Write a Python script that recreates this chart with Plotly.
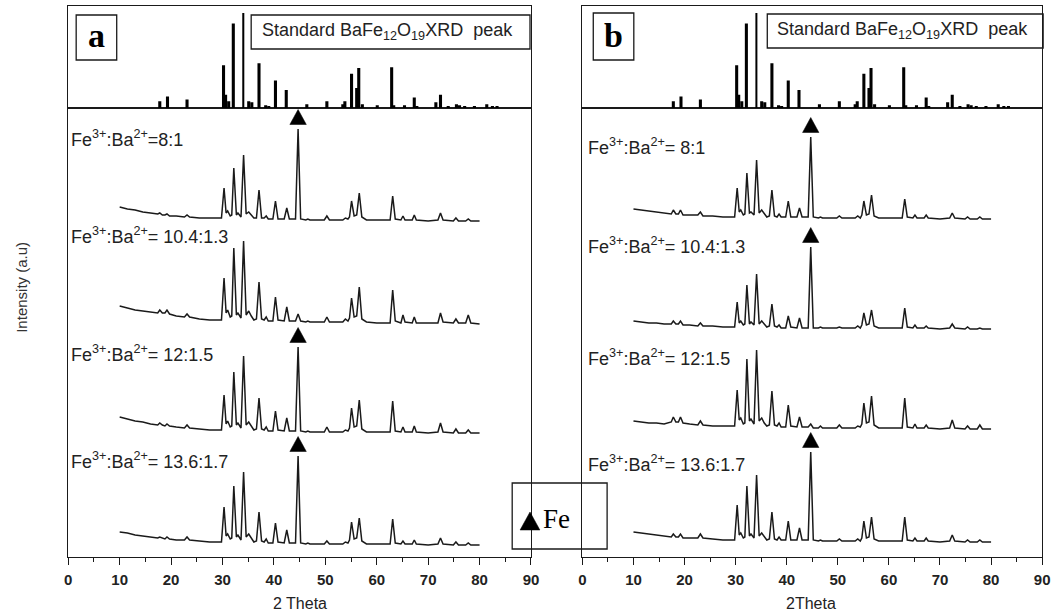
import plotly.graph_objects as go

W, H = 1063, 613

# ---------------- data ----------------
# 2-theta sample positions (deg) shared by all measured patterns
two_theta = [10.0, 11.5, 13.0, 14.5, 16.0, 17.4, 17.8, 18.3, 18.8, 19.2, 19.7, 21.0, 22.6, 23.1, 23.6,
             25.5, 27.5, 29.8, 30.3, 30.7, 31.0, 31.5, 31.8, 32.2, 32.7, 33.0, 33.6, 34.1, 34.6, 35.1,
             35.6, 36.1, 36.6, 37.1, 37.6, 38.1, 38.5, 38.9, 39.8, 40.3, 40.8, 42.0, 42.5, 43.0, 44.2,
             44.7, 45.2, 46.2, 46.6, 47.0, 49.8, 50.3, 50.8, 53.4, 53.9, 54.4, 54.7, 55.1, 55.6, 56.1,
             56.6, 57.1, 58.0, 60.0, 62.6, 63.1, 63.6, 64.7, 65.1, 65.5, 66.9, 67.3, 67.7, 70.0, 71.9,
             72.4, 72.9, 74.9, 75.4, 75.9, 77.3, 77.8, 78.3, 80.0]

# intensities (a.u.) above each pattern's own baseline
a_8_1 = [14, 12, 11, 9, 8, 7, 8, 6, 6, 7, 5, 5, 4, 6, 4,
         3, 3, 3, 33, 8, 10, 5, 6, 53, 6, 8, 4, 66, 7, 9,
         6, 3, 3, 31, 3, 3, 5, 2, 2, 20, 2, 2, 13, 2, 2,
         92, 2, 1, 2, 1, 1, 5, 1, 1, 3, 2, 4, 20, 5, 6,
         28, 4, 1, 1, 1, 25, 2, 1, 5, 1, 1, 6, 1, 0, 1,
         8, 1, 0, 3, 0, 0, 2, 0, 0]
a_10_4 = [18, 16, 14, 13, 12, 11, 14, 11, 11, 14, 10, 8, 7, 10, 7,
          5, 4, 4, 46, 11, 14, 7, 8, 76, 9, 11, 6, 83, 9, 13,
          8, 4, 5, 42, 5, 4, 7, 3, 3, 27, 4, 3, 17, 3, 3,
          10, 3, 2, 3, 2, 2, 7, 2, 2, 5, 3, 6, 26, 7, 8,
          37, 5, 2, 1, 1, 34, 3, 1, 9, 2, 1, 7, 1, 1, 1,
          11, 2, 1, 5, 1, 1, 9, 1, 0]
a_12 = [16, 14, 12, 11, 9, 8, 10, 8, 7, 9, 7, 6, 5, 8, 5,
        4, 3, 3, 38, 9, 12, 6, 7, 61, 8, 10, 5, 77, 8, 11,
        7, 3, 4, 35, 4, 3, 6, 2, 2, 22, 3, 2, 15, 2, 2,
        86, 2, 1, 2, 1, 1, 6, 1, 1, 3, 2, 5, 25, 6, 7,
        33, 4, 1, 1, 1, 32, 2, 1, 6, 1, 1, 7, 1, 0, 1,
        10, 1, 0, 4, 0, 0, 3, 0, 0]
a_13_6 = [13, 12, 10, 9, 8, 7, 8, 7, 6, 8, 6, 5, 5, 8, 5,
          4, 3, 3, 38, 9, 11, 6, 7, 59, 8, 10, 5, 73, 8, 11,
          7, 3, 4, 33, 4, 3, 6, 2, 2, 22, 3, 2, 15, 2, 2,
          89, 2, 1, 2, 1, 1, 4, 1, 1, 3, 2, 5, 23, 6, 7,
          27, 4, 1, 1, 1, 26, 2, 1, 4, 1, 1, 5, 1, 0, 1,
          7, 1, 0, 3, 0, 0, 2, 0, 0]
b_8_1 = [10, 9, 8, 7, 6, 5, 9, 5, 5, 9, 4, 4, 4, 7, 3,
         3, 2, 2, 31, 7, 9, 4, 5, 46, 6, 7, 4, 59, 6, 9,
         5, 2, 3, 29, 3, 2, 5, 2, 2, 18, 2, 2, 11, 2, 2,
         82, 2, 1, 2, 1, 1, 3, 1, 1, 3, 1, 4, 18, 4, 5,
         24, 3, 1, 1, 1, 20, 2, 1, 4, 1, 1, 4, 1, 0, 1,
         6, 1, 0, 2, 0, 0, 2, 0, 0]
b_10_4 = [8, 7, 6, 6, 5, 5, 8, 5, 5, 8, 4, 4, 3, 6, 3,
          3, 2, 2, 27, 6, 8, 4, 5, 44, 5, 7, 4, 55, 5, 8,
          5, 2, 3, 25, 3, 2, 4, 1, 1, 13, 2, 1, 11, 1, 1,
          82, 1, 1, 2, 1, 1, 2, 1, 1, 3, 1, 4, 16, 4, 5,
          19, 3, 1, 1, 1, 21, 2, 1, 4, 1, 1, 3, 1, 0, 1,
          5, 1, 0, 2, 0, 0, 1, 0, 0]
b_12 = [8, 7, 6, 6, 5, 7, 12, 7, 7, 12, 6, 5, 4, 8, 4,
        3, 3, 3, 39, 9, 11, 5, 6, 70, 8, 10, 5, 79, 8, 11,
        6, 3, 4, 38, 4, 3, 6, 2, 2, 24, 3, 2, 12, 2, 2,
        5, 1, 1, 3, 1, 1, 4, 1, 1, 3, 2, 5, 26, 6, 7,
        33, 4, 1, 1, 1, 31, 2, 1, 5, 1, 1, 4, 1, 0, 1,
        9, 1, 0, 3, 0, 0, 4, 0, 0]
b_13_6 = [10, 9, 8, 7, 6, 5, 8, 5, 5, 8, 4, 4, 4, 8, 4,
          3, 2, 2, 37, 7, 9, 4, 5, 56, 6, 8, 4, 67, 6, 9,
          5, 2, 3, 30, 3, 2, 5, 2, 2, 21, 2, 2, 14, 2, 2,
          90, 2, 1, 2, 1, 1, 3, 1, 1, 3, 1, 4, 21, 4, 5,
          25, 3, 1, 1, 1, 25, 2, 1, 4, 1, 1, 4, 1, 0, 1,
          7, 1, 0, 2, 0, 0, 2, 0, 0]

patterns_a = [a_8_1, a_10_4, a_12, a_13_6]
patterns_b = [b_8_1, b_10_4, b_12, b_13_6]
offsets_a = [336, 233, 124, 12]      # vertical stacking offsets (a.u.)
offsets_b = [338, 228, 128, 15]
labels_a = ["Fe<sup>3+</sup>:Ba<sup>2+</sup>=8:1", "Fe<sup>3+</sup>:Ba<sup>2+</sup>= 10.4:1.3",
            "Fe<sup>3+</sup>:Ba<sup>2+</sup>= 12:1.5", "Fe<sup>3+</sup>:Ba<sup>2+</sup>= 13.6:1.7"]
labels_b = ["Fe<sup>3+</sup>:Ba<sup>2+</sup>= 8:1", "Fe<sup>3+</sup>:Ba<sup>2+</sup>= 10.4:1.3",
            "Fe<sup>3+</sup>:Ba<sup>2+</sup>= 12:1.5", "Fe<sup>3+</sup>:Ba<sup>2+</sup>= 13.6:1.7"]
fe_marked_a = [True, False, True, True]
fe_marked_b = [True, True, False, True]
fe_peak = 44.7

# standard BaFe12O19 reference pattern
std_pos = [17.8, 19.3, 23.1, 30.2, 30.6, 31.2, 32.1, 34.1, 35.1, 35.7, 37.1, 38.4, 39.0, 40.3, 42.4,
           46.4, 50.3, 53.4, 53.8, 55.1, 56.1, 56.5, 57.2, 60.1, 62.9, 63.3, 65.4, 67.3, 67.8, 71.5,
           72.4, 73.9, 75.5, 76.1, 77.1, 79.0, 81.4, 82.5, 83.4]
std_int = [7, 12, 9, 45, 14, 7, 89, 100, 7, 6, 47, 3, 2, 29, 19,
           4, 7, 4, 7, 36, 21, 42, 4, 3, 43, 3, 3, 11, 2, 6,
           14, 2, 4, 3, 2, 2, 4, 2, 2]

# ---------------- layout helpers ----------------
def px(x):
    return x / W

def py(y):
    return 1 - y / H

SANS = "Liberation Sans, Arial, sans-serif"
SERIF = "Liberation Serif, Times New Roman, serif"
INK = "#1a1a1a"

dom_a = [px(65), px(533)]
dom_b = [px(585), px(1050)]
dom_main = [py(557), py(108)]
dom_top = [py(108), py(6)]

fig = go.Figure()

panels = [
    dict(x="x", y="y", xt="x2", yt="y2", pats=patterns_a, offs=offsets_a, labs=labels_a,
         fe=fe_marked_a, labx=0.2, laby=[419, 322, 204, 97]),
    dict(x="x3", y="y3", xt="x4", yt="y4", pats=patterns_b, offs=offsets_b, labs=labels_b,
         fe=fe_marked_b, labx=0.7, laby=[411, 312, 200, 94]),
]

annotations = []
fe_idx = two_theta.index(fe_peak)
TRI_HW, TRI_HH, TRI_GAP = 1.6, 7.5, 12

for p in panels:
    # standard stick pattern
    fig.add_trace(go.Bar(x=std_pos, y=std_int, xaxis=p["xt"], yaxis=p["yt"],
                         width=[0.28 if v == max(std_int) else 0.6 for v in std_int],
                         marker=dict(color="black", line=dict(width=0)), hoverinfo="skip"))
    for pat, off, lab, fe, ly in zip(p["pats"], p["offs"], p["labs"], p["fe"], p["laby"]):
        fig.add_trace(go.Scatter(x=two_theta, y=[off + v for v in pat], mode="lines",
                                 xaxis=p["x"], yaxis=p["y"],
                                 line=dict(color=INK, width=1.5), hoverinfo="skip"))
        if fe:
            yc = off + pat[fe_idx] + TRI_GAP
            fig.add_trace(go.Scatter(
                x=[fe_peak - TRI_HW, fe_peak + TRI_HW, fe_peak, fe_peak - TRI_HW],
                y=[yc - TRI_HH, yc - TRI_HH, yc + TRI_HH, yc - TRI_HH],
                mode="lines", fill="toself", fillcolor="black", line=dict(color="black", width=0.5),
                xaxis=p["x"], yaxis=p["y"], hoverinfo="skip"))
        annotations.append(dict(x=p["labx"], y=ly, xref=p["x"], yref=p["y"], text=lab,
                                xanchor="left", yanchor="middle", showarrow=False,
                                font=dict(family=SANS, size=18, color="#222")))

main_x = dict(range=[0, 90], tickvals=list(range(0, 91, 10)), ticks="outside", ticklen=7,
              tickwidth=1.3, tickcolor=INK, showline=True, linecolor=INK, linewidth=1.3,
              mirror=True, showgrid=False, zeroline=False,
              minor=dict(tickvals=list(range(5, 90, 10)), ticks="outside", ticklen=4,
                         tickwidth=1.3, tickcolor=INK),
              tickfont=dict(family=SANS, size=15, color="#222", weight="bold"),
              ticklabelstandoff=2, fixedrange=True)
top_x = dict(range=[0, 90], showticklabels=False, ticks="", showline=True, linecolor=INK,
             linewidth=1.3, mirror=True, showgrid=False, zeroline=False)
main_y = dict(range=[0, 449], showticklabels=False, ticks="", showline=True, linecolor=INK,
              linewidth=1.3, mirror=True, showgrid=False, zeroline=False)
top_y = dict(range=[0, 107.4], showticklabels=False, ticks="", showline=True, linecolor=INK,
             linewidth=1.3, mirror=True, showgrid=False, zeroline=False)

fig.update_layout(
    width=W, height=H, margin=dict(l=0, r=0, t=0, b=0),
    paper_bgcolor="white", plot_bgcolor="white", showlegend=False, barmode="overlay",
    xaxis=dict(main_x, domain=dom_a, anchor="y"),
    yaxis=dict(main_y, domain=dom_main, anchor="x"),
    xaxis2=dict(top_x, domain=dom_a, anchor="y2"),
    yaxis2=dict(top_y, domain=dom_top, anchor="x2"),
    xaxis3=dict(main_x, domain=dom_b, anchor="y3"),
    yaxis3=dict(main_y, domain=dom_main, anchor="x3"),
    xaxis4=dict(top_x, domain=dom_b, anchor="y4"),
    yaxis4=dict(top_y, domain=dom_top, anchor="x4"),
)

std_text = "Standard BaFe<sub>12</sub>O<sub>19</sub>XRD\u00a0 peak"

def note(x, y, text, font, xanchor="center", **kw):
    return dict(x=px(x), y=py(y), xref="paper", yref="paper", text=text, showarrow=False,
                xanchor=xanchor, yanchor="middle", font=font, **kw)

annotations += [
    note(18, 287, "Intensity (a.u)", dict(family=SANS, size=15, color="#333"), textangle=-90),
    note(299, 603, "2 Theta", dict(family=SANS, size=16, color="#222")),
    note(816, 603, "2Theta", dict(family=SANS, size=16, color="#222")),
    note(93.5, 36, "<b>a</b>", dict(family=SERIF, size=34, color="black")),
    note(616.5, 35, "<b>b</b>", dict(family=SERIF, size=34, color="black")),
    note(259, 32, std_text, dict(family=SANS, size=18, color="#222"), xanchor="left"),
    note(780, 31, std_text, dict(family=SANS, size=18, color="#222"), xanchor="left"),
    note(543, 519, "Fe", dict(family=SERIF, size=27, color="black"), xanchor="left"),
]

def rect(x0, y0, x1, y1):
    return dict(type="rect", xref="paper", yref="paper", x0=px(x0), x1=px(x1), y0=py(y1), y1=py(y0),
                line=dict(color=INK, width=1.3), fillcolor="rgba(0,0,0,0)", layer="above")

shapes = [
    rect(73, 15, 114, 60),
    rect(596, 13, 637, 60),
    rect(250, 15, 532, 49),
    rect(772, 14, 1051, 48),
    rect(514, 483, 610, 549),
    dict(type="path", xref="paper", yref="paper",
         path=f"M {px(522)},{py(530)} L {px(542)},{py(530)} L {px(532)},{py(512)} Z",
         fillcolor="black", line=dict(color="black", width=0.5), layer="above"),
]

fig.update_layout(annotations=annotations, shapes=shapes)
fig.write_html("out.html")
